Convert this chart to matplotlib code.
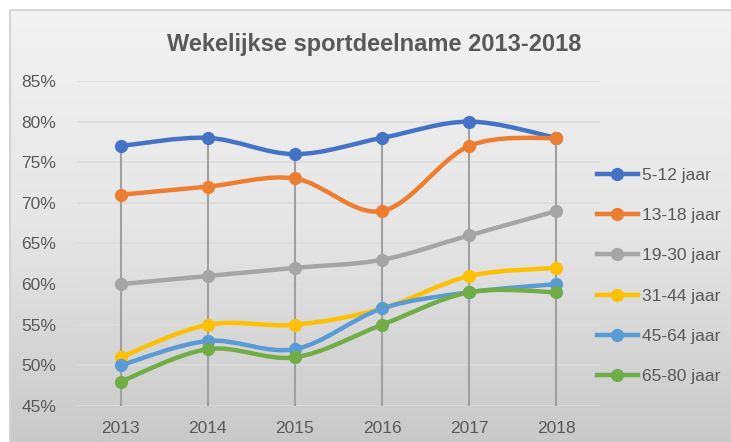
import numpy as np
import matplotlib
matplotlib.use("Agg")
import matplotlib.pyplot as plt
from matplotlib.path import Path
from matplotlib.patches import PathPatch, Rectangle
from matplotlib.lines import Line2D
from matplotlib.colors import LinearSegmentedColormap

years = ["2013", "2014", "2015", "2016", "2017", "2018"]
series_names = ["5-12 jaar", "13-18 jaar", "19-30 jaar", "31-44 jaar", "45-64 jaar", "65-80 jaar"]
v_5_12 = [77, 78, 76, 78, 80, 78]
v_13_18 = [71, 72, 73, 69, 77, 78]
v_19_30 = [60, 61, 62, 63, 66, 69]
v_31_44 = [51, 55, 55, 57, 61, 62]
v_45_64 = [50, 53, 52, 57, 59, 60]
v_65_80 = [48, 52, 51, 55, 59, 59]
series_values = [v_5_12, v_13_18, v_19_30, v_31_44, v_45_64, v_65_80]
colors = ["#4472C4", "#ED7D31", "#A5A5A5", "#FFC000", "#5B9BD5", "#70AD47"]
yticks = [45, 50, 55, 60, 65, 70, 75, 80, 85]

font = ["Liberation Sans Narrow", "Liberation Sans", "DejaVu Sans"]
plt.rcParams['font.family'] = font
txt = "#595959"
fs = 12.5

W, H = 731, 442
fig = plt.figure(figsize=(W/100, H/100), dpi=100)
fig.patch.set_facecolor("white")

# background gradient
bg = fig.add_axes([0, 0, 1, 1])
bg.set_xlim(0, W); bg.set_ylim(H, 0); bg.axis("off")
cmap = LinearSegmentedColormap.from_list("g", ["#f2f2f2", "#e6e6e6", "#c9c9c9"])
grad = np.linspace(0, 1, 256).reshape(-1, 1)
bg.imshow(grad, extent=[10, W, H, 10], cmap=cmap, aspect="auto", zorder=0)
bg.add_patch(Rectangle((10, 10), W, H, fill=False, edgecolor="#d4d4d4", lw=1.5, zorder=1))

# plot axes
x0, x1 = 77, 600
ytop, ybot = 81, 406
ax = fig.add_axes([x0/W, 1 - ybot/H, (x1-x0)/W, (ybot-ytop)/H])
ax.patch.set_alpha(0)
ax.set_xlim(-0.5, 5.5)
ax.set_ylim(45, 85)
for s in ax.spines.values():
    s.set_visible(False)
ax.set_yticks(yticks)
ax.set_yticklabels([f"{t}%" for t in yticks], color=txt, fontsize=fs)
x = np.arange(len(years))
ax.set_xticks(x)
ax.set_xticklabels(years, color=txt, fontsize=fs)
ax.tick_params(length=0)
ax.tick_params(axis="x", pad=11)
ax.tick_params(axis="y", pad=15)
for t in yticks:
    ax.axhline(t, color="#dcdcdc", lw=1.2, zorder=1)

# drop lines
tops = np.max(np.array(series_values), axis=0)
ax.vlines(x, 45, tops, color="#a0a0a0", lw=1.5, zorder=2)

def smooth_path(xs, ys):
    pts = np.column_stack([xs, ys]).astype(float)
    n = len(pts)
    verts = [pts[0]]
    codes = [Path.MOVETO]
    for i in range(n - 1):
        p0 = pts[i - 1] if i > 0 else pts[i]
        p1 = pts[i]
        p2 = pts[i + 1]
        p3 = pts[i + 2] if i + 2 < n else pts[i + 1]
        c1 = p1 + (p2 - p0) / 6.0
        c2 = p2 - (p3 - p1) / 6.0
        verts += [c1, c2, p2]
        codes += [Path.CURVE4] * 3
    return Path(verts, codes)

handles = []
for name, vals, c in zip(series_names, series_values, colors):
    ax.add_patch(PathPatch(smooth_path(x, vals), fill=False, edgecolor=c, lw=3.2,
                           capstyle="round", joinstyle="round", zorder=3))
    ax.plot(x, vals, linestyle="none", marker="o", ms=8.5, color=c, zorder=4)
    handles.append(Line2D([], [], color=c, lw=3.2, marker="o", ms=8.5))

fig.text(374/W, 1 - 44/H, "Wekelijkse sportdeelname 2013-2018", ha="center", va="center",
         fontsize=17, fontweight="bold", color=txt)

leg = fig.legend(handles, series_names, loc="upper left", bbox_to_anchor=(588/W, 1 - 159/H),
                 frameon=False, fontsize=fs, labelcolor=txt, handlelength=2.36,
                 handletextpad=0.23, labelspacing=1.45, borderpad=0)

fig.savefig("out.png", dpi=100)
